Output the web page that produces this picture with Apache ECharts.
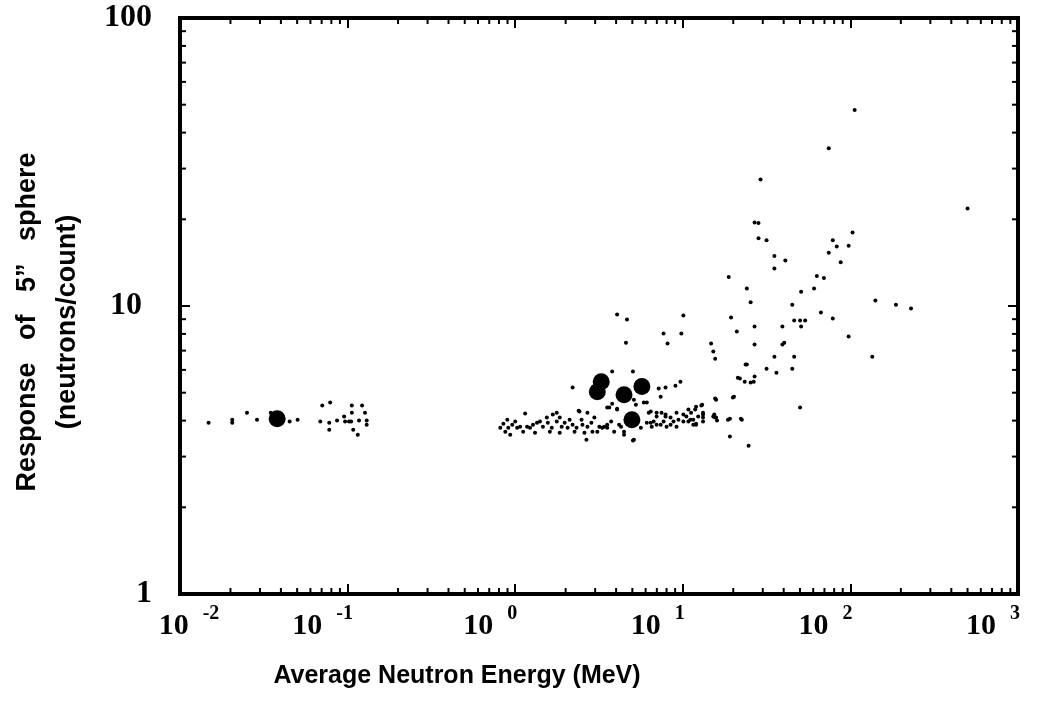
<!DOCTYPE html>
<html>
<head>
<meta charset="utf-8">
<script src="https://cdn.jsdelivr.net/npm/echarts@6/dist/echarts.min.js"></script>
<style>
  html, body { margin: 0; padding: 0; background: #fff; }
  #chart { width: 1061px; height: 702px; }
</style>
</head>
<body>
<div id="chart"></div>
<script>
// tick values
const xExponents = ['-2', '-1', '0', '1', '2', '3'];
const xMinorTicks = [
  0.02, 0.03, 0.04, 0.05, 0.06, 0.07, 0.08, 0.09,
  0.2, 0.3, 0.4, 0.5, 0.6, 0.7, 0.8, 0.9,
  2, 3, 4, 5, 6, 7, 8, 9,
  20, 30, 40, 50, 60, 70, 80, 90,
  200, 300, 400, 500, 600, 700, 800, 900
];
const yMinorTicks = [2, 3, 4, 5, 6, 7, 8, 9, 20, 30, 40, 50, 60, 70, 80, 90];

// [energy MeV, response]
const thermalPoints = [
  [0.0148, 3.93], [0.0205, 4.03], [0.0205, 3.93], [0.0251, 4.26], [0.0288, 4.03],
  [0.0348, 4.26], [0.0404, 4.16], [0.0451, 3.97], [0.0503, 4.03], [0.0687, 3.97],
  [0.0706, 4.51], [0.0787, 4.62], [0.0777, 3.93], [0.0777, 3.72], [0.0865, 4.00],
  [0.0953, 4.13], [0.0966, 3.97], [0.102, 3.97], [0.106, 4.51], [0.106, 4.26],
  [0.105, 3.97], [0.108, 3.72], [0.115, 3.57], [0.117, 4.00], [0.122, 4.51],
  [0.127, 4.26], [0.130, 4.00], [0.130, 3.87]
];

const bandPoints = [
  [0.815, 3.78], [0.850, 3.90], [0.897, 4.03], [0.909, 3.78], [0.960, 3.87],
  [1.0, 3.97], [1.027, 3.78], [1.07, 3.81], [1.146, 4.23], [1.177, 3.81],
  [1.226, 3.78], [1.277, 3.87], [1.349, 3.93], [1.405, 3.97], [1.463, 3.81],
  [1.545, 4.10], [1.566, 3.93], [1.653, 3.78], [1.675, 4.20], [1.770, 4.26],
  [1.770, 3.97], [1.844, 4.10], [1.894, 3.81], [1.973, 3.93], [2.055, 3.78],
  [2.112, 4.03], [2.200, 3.87], [2.323, 3.78], [2.420, 4.30], [2.488, 4.03],
  [2.519, 3.87], [2.589, 3.63], [2.698, 3.81], [2.849, 3.93], [2.967, 4.10],
  [3.176, 3.81], [3.306, 3.78], [3.540, 3.87], [3.737, 3.97], [0.873, 3.66],
  [0.934, 3.57], [1.115, 3.66], [1.313, 3.63], [1.61, 3.66], [1.844, 3.63],
  [2.26, 3.66], [2.89, 3.66]
];

const midPoints = [
  [4.055, 9.34], [4.645, 8.98], [10.08, 9.27], [19.4, 9.12], [7.68, 8.02],
  [9.8, 8.02], [4.58, 7.46], [8.11, 7.41], [14.75, 7.41], [15.2, 6.95],
  [15.6, 6.56], [21.0, 8.15], [23.7, 6.26], [21.3, 5.64], [23.4, 5.46],
  [2.200, 5.21], [3.789, 5.92], [5.04, 5.92], [7.18, 5.17], [7.89, 5.21],
  [7.38, 4.84], [9.04, 5.29], [9.68, 5.46], [15.6, 4.77], [19.9, 4.81],
  [2.39, 4.33], [2.698, 4.26], [3.540, 4.44], [3.789, 4.58], [4.055, 4.40],
  [5.25, 4.54], [6.10, 4.62], [6.44, 4.30], [6.98, 4.26], [7.89, 4.20],
  [9.17, 4.26], [10.8, 4.37], [12.0, 4.47], [12.9, 4.51], [13.2, 4.20],
  [15.2, 4.13], [19.1, 4.06], [22.2, 4.06], [19.1, 3.52], [24.7, 3.27],
  [2.66, 3.43], [5.04, 3.41], [6.44, 3.93], [6.98, 3.87], [7.68, 3.97],
  [8.45, 3.87], [9.17, 3.81], [10.08, 3.97], [11.1, 4.03], [11.55, 3.87],
  [5.62, 3.78], [4.285, 3.81], [3.894, 3.66], [4.460, 3.57], [3.398, 3.81],
  [3.090, 3.66], [12.0, 3.87], [3.64, 4.44], [4.055, 4.37], [5.107, 4.73],
  [5.85, 4.62], [6.26, 4.26], [6.98, 4.13], [7.47, 4.26], [7.89, 4.13],
  [8.45, 4.10], [8.80, 3.97], [9.42, 4.03], [10.08, 4.20], [11.2, 4.26],
  [11.55, 4.03], [12.35, 4.13], [13.2, 4.26], [13.2, 3.97], [15.6, 4.10],
  [16.0, 4.00], [18.6, 4.03], [15.8, 4.73], [6.10, 3.93], [6.53, 3.81],
  [3.54, 3.78], [4.169, 3.87], [4.46, 3.66], [5.107, 3.43], [6.70, 3.97],
  [7.38, 3.87], [8.00, 3.81]
];

const highPoints = [
  [106, 47.9], [74.3, 35.3], [29.1, 27.5], [500, 21.8], [26.8, 19.5],
  [28.3, 19.4], [28.3, 17.2], [31.6, 16.9], [35.2, 14.9], [40.9, 14.4],
  [35.2, 13.5], [103, 18.0], [78.5, 16.9], [82.9, 16.1], [97.6, 16.2],
  [74.3, 15.3], [87.5, 14.2], [63.1, 12.7], [69.5, 12.5], [60.7, 11.5],
  [50.8, 11.2], [18.8, 12.6], [24.1, 11.5], [25.4, 10.3], [45.0, 10.1],
  [141, 10.45], [187, 10.1], [230, 9.80], [66.7, 9.49], [78.5, 9.05],
  [46.2, 8.91], [50.1, 8.91], [53.7, 8.91], [26.8, 8.49], [39.3, 8.49],
  [50.8, 8.49], [97.6, 7.83], [26.8, 7.35], [39.3, 7.35], [40.3, 7.46],
  [35.2, 6.67], [46.2, 6.67], [135, 6.67], [24.1, 6.26], [31.6, 6.06],
  [45.0, 6.06], [36.2, 5.87], [21.9, 5.60], [25.4, 5.42], [26.5, 5.46],
  [26.8, 5.69], [20.2, 4.84], [50.1, 4.44], [13.05, 4.54], [11.85, 4.37],
  [10.5, 4.13], [10.8, 3.97], [12.0, 3.90], [13.2, 4.10], [15.4, 4.20],
  [15.8, 4.10], [22.5, 4.03]
];

const largePoints = [
  [0.038, 4.06], [3.090, 5.04], [3.26, 5.46], [4.46, 4.92], [5.70, 5.25], [4.97, 4.03]
];

const chart = echarts.init(document.getElementById('chart'));

const logX = {
  type: 'log', logBase: 10, min: 0.01, max: 1000,
  axisLine: { show: false },
  splitLine: { show: false },
  axisTick: { inside: true, length: 10, lineStyle: { color: '#000', width: 2 } }
};
const logY = {
  type: 'log', logBase: 10, min: 1, max: 100,
  axisLine: { show: false },
  splitLine: { show: false },
  axisTick: { inside: true, length: 10, lineStyle: { color: '#000', width: 2 } }
};

function minorTicks(values, dir) {
  return {
    type: 'custom',
    silent: true,
    clip: false,
    z: 5,
    data: values.map(v => (dir === 'x' ? [v, 1] : [0.01, v])),
    renderItem: (params, api) => {
      const stroke = { stroke: '#000', lineWidth: 2 };
      if (dir === 'x') {
        const v = api.value(0);
        const b = api.coord([v, 1]);
        const t = api.coord([v, 100]);
        return {
          type: 'group',
          children: [
            { type: 'line', shape: { x1: b[0], y1: b[1], x2: b[0], y2: b[1] - 6 }, style: stroke },
            { type: 'line', shape: { x1: t[0], y1: t[1], x2: t[0], y2: t[1] + 6 }, style: stroke }
          ]
        };
      }
      const v = api.value(1);
      const l = api.coord([0.01, v]);
      const r = api.coord([1000, v]);
      return {
        type: 'group',
        children: [
          { type: 'line', shape: { x1: l[0], y1: l[1], x2: l[0] + 6, y2: l[1] }, style: stroke },
          { type: 'line', shape: { x1: r[0], y1: r[1], x2: r[0] - 6, y2: r[1] }, style: stroke }
        ]
      };
    }
  };
}

const serifBold = { fontFamily: 'Liberation Serif', fontWeight: 'bold', color: '#000' };

chart.setOption({
  animation: false,
  backgroundColor: '#fff',
  grid: {
    left: 171, right: 43, top: 18, bottom: 108,
    show: true, borderColor: '#000', borderWidth: 4
  },
  xAxis: [
    Object.assign({}, logX, {
      position: 'bottom',
      name: 'Average Neutron Energy (MeV)',
      nameLocation: 'middle',
      nameGap: 70,
      nameTextStyle: {
        fontFamily: 'Liberation Sans', fontWeight: 'bold', fontSize: 25, color: '#000',
        padding: [0, 284, 0, 0]
      },
      axisLabel: {
        margin: 10,
        formatter: (v) => {
          const i = Math.round(Math.log10(v)) + 2;
          return i === 0
            ? '{b0|10}{s|' + xExponents[i] + '}'
            : '{b|10}{sr|' + xExponents[i] + '}';
        },
        rich: {
          b: Object.assign({ fontSize: 30 }, serifBold),
          b0: Object.assign({ fontSize: 30, padding: [0, 0, 0, 18] }, serifBold),
          s: Object.assign({ fontSize: 20, padding: [0, 0, 24, 14] }, serifBold),
          sr: Object.assign({ fontSize: 20, padding: [0, 50, 24, 14] }, serifBold)
        }
      }
    }),
    Object.assign({}, logX, { position: 'top', axisLabel: { show: false } })
  ],
  yAxis: [
    Object.assign({}, logY, {
      position: 'left',
      name: 'Response   of   5\u201D   sphere\n(neutrons/count)',
      nameLocation: 'middle',
      nameGap: 92,
      nameRotate: 90,
      nameTextStyle: {
        fontFamily: 'Liberation Sans', fontWeight: 'bold', fontSize: 27, color: '#000',
        lineHeight: 40, padding: [0, 32, 0, 0]
      },
      axisLabel: {
        margin: 28,
        formatter: (v) => (Math.round(v) === 10 ? '{m|10}' : '{n|' + Math.round(v) + '}'),
        rich: {
          n: Object.assign({ fontSize: 32 }, serifBold),
          m: Object.assign({ fontSize: 32, padding: [0, 10, 0, 0] }, serifBold)
        }
      }
    }),
    Object.assign({}, logY, { position: 'right', axisLabel: { show: false } })
  ],
  series: [
    minorTicks(xMinorTicks, 'x'),
    minorTicks(yMinorTicks, 'y'),
    {
      type: 'scatter',
      symbolSize: 4,
      itemStyle: { color: '#000', opacity: 1 },
      silent: true,
      data: thermalPoints.concat(bandPoints, midPoints, highPoints)
    },
    {
      type: 'scatter',
      symbolSize: 17,
      itemStyle: { color: '#000', opacity: 1 },
      silent: true,
      data: largePoints
    }
  ]
});
</script>
</body>
</html>
